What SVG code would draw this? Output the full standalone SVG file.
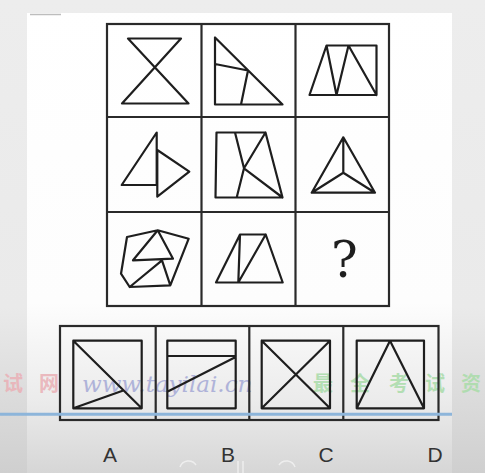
<svg xmlns="http://www.w3.org/2000/svg" width="485" height="473" viewBox="0 0 485 473">
<defs>
<linearGradient id="bg" x1="0" y1="0" x2="0" y2="473" gradientUnits="userSpaceOnUse">
<stop offset="0" stop-color="#ededed"/><stop offset="0.65" stop-color="#eaeaea"/><stop offset="1" stop-color="#cfcfcf"/>
</linearGradient>
<linearGradient id="panel" x1="0" y1="0" x2="0" y2="473" gradientUnits="userSpaceOnUse">
<stop offset="0" stop-color="#ffffff"/><stop offset="0.64" stop-color="#fdfdfd"/><stop offset="0.85" stop-color="#ebebeb"/><stop offset="1" stop-color="#d6d6d6"/>
</linearGradient>
<style>
.ln{fill:none;stroke:#1e1e1e;stroke-width:2.2;stroke-linejoin:round;stroke-linecap:round}
.box{fill:none;stroke:#2a2a2a;stroke-width:2.2}
.lbl{font-family:"Liberation Sans",Arial,sans-serif;font-size:21px;fill:#333;text-anchor:middle}
.wm{font-family:"Noto Sans CJK SC",sans-serif;font-size:20px;font-weight:bold}
</style>
</defs>
<rect width="485" height="473" fill="url(#bg)"/>
<rect x="27" y="13" width="425" height="460" fill="url(#panel)"/>
<line x1="30" y1="14.5" x2="61" y2="14.5" stroke="#bdbdbd" stroke-width="1.5"/>

<g id="grid">
<rect class="box" x="107" y="24" width="282" height="282"/>
<line class="box" x1="201.5" y1="24" x2="201.5" y2="306"/>
<line class="box" x1="295.5" y1="24" x2="295.5" y2="306"/>
<line class="box" x1="107" y1="117" x2="389" y2="117"/>
<line class="box" x1="107" y1="212" x2="389" y2="212"/>
</g>

<g id="cell1">
<path class="ln" d="M128,38.5 H181 L122,103.5 H188.5 Z"/>
</g>
<g id="cell2">
<path class="ln" d="M215,37.5 V104.5 H282.5 Z M215,64 L248,70.5 L241,104.5"/>
</g>
<g id="cell3">
<path class="ln" d="M326.5,45.5 H376.5 V95 H309.5 Z M326.5,45.5 L336.5,95 L348.5,45.5 L376.5,95"/>
</g>
<g id="cell4">
<path class="ln" d="M156.7,132.5 L121.7,185 H156.7 Z M157.3,150 V196.7 L189.3,171.7 Z"/>
</g>
<g id="cell5">
<path class="ln" d="M216.5,132.5 H265.5 L282.5,197.5 H215.5 Z M235,132.5 L244,168.3 L282.5,197.5 M265.5,132.5 L244,168.3 L236.7,197.5"/>
</g>
<g id="cell6">
<path class="ln" d="M343.3,137.3 L311.7,192.7 H375 Z M343.3,137.3 V172.7 L311.7,192.7 M343.3,172.7 L375,192.7"/>
</g>
<g id="cell7">
<path class="ln" d="M127,237 L157.7,230.3 L188.7,238.7 L170.3,285.3 L129.7,287 L121,273.7 Z M157.7,230.3 L133,260.3 L173,258.7 Z M129.7,287 L162,260.3 L170.3,285.3"/>
</g>
<g id="cell8">
<path class="ln" d="M216,282.5 L240,234.5 H265.7 L282.7,282.5 Z M240,234.5 L238.3,282.5 L265.7,234.5"/>
</g>
<g id="cell9">
<text x="344.5" y="277" font-family="DejaVu Serif,serif" font-size="50" fill="#1e1e1e" text-anchor="middle">?</text>
</g>

<g id="watermark" opacity="0.85">
<text class="wm" x="3" y="391" fill="#eab0b6">试</text>
<text class="wm" x="39" y="391" fill="#eab0b6">网</text>
<text x="82" y="392" font-family="DejaVu Serif,serif" font-style="italic" font-size="23" fill="#a5a9d6">www.tayilai.cn</text>
<text class="wm" x="313" y="391" fill="#a9dca9">最</text>
<text class="wm" x="350" y="391" fill="#a9dca9">全</text>
<text class="wm" x="389" y="391" fill="#a9dca9">考</text>
<text class="wm" x="425" y="391" fill="#a9dca9">试</text>
<text class="wm" x="461" y="391" fill="#a9dca9">资</text>
</g>

<g id="options">
<rect class="box" x="60" y="326" width="378.5" height="94"/>
<line class="box" x1="155.7" y1="326" x2="155.7" y2="420"/>
<line class="box" x1="249.3" y1="326" x2="249.3" y2="420"/>
<line class="box" x1="343.3" y1="326" x2="343.3" y2="420"/>
</g>
<g id="optA">
<path class="ln" d="M73.3,340.7 H141.7 V408.3 H73.3 Z M73.3,340.7 L141.7,408.3 M73.3,408.3 L123.3,390.5"/>
</g>
<g id="optB">
<path class="ln" d="M167.3,340.7 H235.7 V408.3 H167.3 Z M167.3,356 H235.7 M167.3,391.7 L235.7,357"/>
</g>
<g id="optC">
<path class="ln" d="M261.7,340.7 H330 V408.3 H261.7 Z M261.7,340.7 L330,408.3 M330,340.7 L261.7,408.3"/>
</g>
<g id="optD">
<path class="ln" d="M356.7,340.7 H424 V408.3 H356.7 Z M356.7,408.3 L390,340.7 L424,408.3"/>
</g>

<line x1="0" y1="414.3" x2="452" y2="414.3" stroke="#8db5da" stroke-width="3"/>

<g id="labels">
<text class="lbl" x="110" y="461.5">A</text>
<text class="lbl" x="228" y="461.5">B</text>
<text class="lbl" x="326" y="461.5">C</text>
<text class="lbl" x="435" y="461.5">D</text>
</g>

<g id="player" fill="none" stroke="#f4f4f4" stroke-width="1.5" opacity="0.8">
<path d="M180,467 A9,9 0 0 1 196,465"/>
<path d="M238,461 V473 M243,461 V473"/>
<path d="M279,465 A9,9 0 0 1 295,467"/>
</g>
</svg>
